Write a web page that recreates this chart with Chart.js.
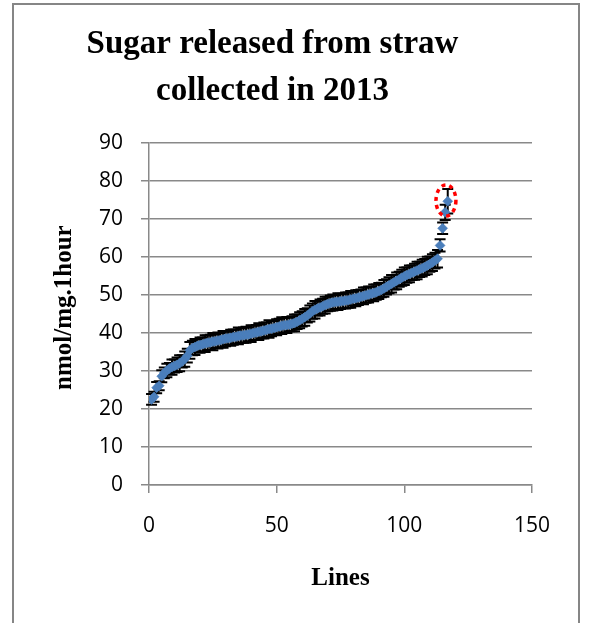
<!DOCTYPE html>
<html>
<head>
<meta charset="utf-8">
<script src="https://cdn.jsdelivr.net/npm/chart.js@4/dist/chart.umd.min.js"></script>
<style>
  html, body { margin: 0; padding: 0; background: #fff; }
  #wrap { width: 592px; height: 623px; }
</style>
</head>
<body>
<div id="wrap"><canvas id="c" width="592" height="623"></canvas></div>
<script>
// line ids (x) and sugar released (y)
const lines = [1,2,3,4,5,6,7,8,9,10,11,12,13,14,15,16,17,18,19,20,
  21,22,23,24,25,26,27,28,29,30,31,32,33,34,35,36,37,38,39,40,
  41,42,43,44,45,46,47,48,49,50,51,52,53,54,55,56,57,58,59,60,
  61,62,63,64,65,66,67,68,69,70,71,72,73,74,75,76,77,78,79,80,
  81,82,83,84,85,86,87,88,89,90,91,92,93,94,95,96,97,98,99,100,
  101,102,103,104,105,106,107,108,109,110,111,112,113,114,115,116,117];

const sugar = [22.5,23.2,25.6,26.1,28.6,29.5,30.1,30.6,31.0,31.3,
  31.6,32.0,32.5,33.1,34.0,35.4,36.0,36.3,36.6,36.8,
  37.0,37.2,37.4,37.5,37.7,37.8,38.0,38.1,38.3,38.5,
  38.6,38.7,38.9,39.0,39.2,39.3,39.4,39.5,39.6,39.8,
  40.0,40.1,40.3,40.4,40.6,40.8,41.0,41.1,41.3,41.5,
  41.7,41.9,42.0,42.1,42.2,42.4,42.6,42.9,43.3,43.7,
  44.1,44.6,45.1,45.7,46.1,46.4,46.7,47.0,47.3,47.6,
  47.8,48.0,48.1,48.2,48.3,48.4,48.5,48.6,48.8,49.0,
  49.1,49.3,49.5,49.7,49.9,50.1,50.3,50.5,50.7,51.0,
  51.3,51.7,52.1,52.5,52.9,53.3,53.7,54.1,54.5,54.9,
  55.2,55.5,55.8,56.1,56.4,56.7,57.0,57.3,57.7,58.1,
  58.5,59.0,59.5,63.0,67.5,71.7,74.6];

// error bar half-lengths
const errors = [1.4,1.3,1.5,1.2,1.6,1.4,1.8,1.5,2.0,1.7,
  1.9,2.1,1.6,2.0,1.8,2.2,1.9,2.1,1.7,2.0,
  1.8,2.2,1.9,2.0,2.3,1.8,2.1,1.9,2.2,2.0,
  1.7,2.1,2.0,1.8,2.2,1.9,2.0,2.1,1.8,2.2,
  1.9,2.0,2.2,1.8,2.1,1.9,2.3,2.0,1.8,2.1,
  2.0,2.2,1.9,2.1,1.8,2.0,2.2,1.9,2.1,2.0,
  2.2,1.9,2.1,2.0,2.3,1.8,2.1,2.0,2.2,1.9,
  2.0,2.1,1.8,2.2,2.0,1.9,2.1,2.0,2.2,1.8,
  2.1,2.0,1.9,2.2,2.0,2.1,1.8,2.2,2.0,2.1,
  1.9,2.2,2.0,2.1,2.3,1.9,2.2,2.0,2.1,2.3,
  2.0,2.2,1.9,2.1,2.3,2.0,2.2,2.1,2.3,2.0,
  2.2,2.1,2.3,1.6,1.5,2.0,3.2];

const yTicks = [0,10,20,30,40,50,60,70,80,90];
const xTicks = [0,50,100,150];

// highlighted outlier, in data units
const ring = { x: 116.3, y: 74.8, rx: 3.9, ry: 4.1 };

const grey = '#898989';

const frame = {
  id: 'frame',
  beforeDraw(chart) {
    const ctx = chart.ctx;
    ctx.save();
    ctx.fillStyle = '#fff';
    ctx.fillRect(0, 0, chart.width, chart.height);
    ctx.strokeStyle = '#868686';
    ctx.lineWidth = 2;
    ctx.strokeRect(13, 4, 566, 640);
    ctx.restore();
  }
};

const errorBars = {
  id: 'errorBars',
  beforeDatasetsDraw(chart) {
    const ctx = chart.ctx, xs = chart.scales.x, ys = chart.scales.y;
    ctx.save();
    ctx.strokeStyle = '#000';
    ctx.lineWidth = 2;
    lines.forEach((l, i) => {
      const px = xs.getPixelForValue(l);
      const top = ys.getPixelForValue(sugar[i] + errors[i]);
      const bot = ys.getPixelForValue(sugar[i] - errors[i]);
      ctx.beginPath();
      ctx.moveTo(px, top); ctx.lineTo(px, bot);
      ctx.moveTo(px - 5.5, top); ctx.lineTo(px + 5.5, top);
      ctx.moveTo(px - 5.5, bot); ctx.lineTo(px + 5.5, bot);
      ctx.stroke();
    });
    ctx.restore();
  },
  afterDatasetsDraw(chart) {
    const ctx = chart.ctx, xs = chart.scales.x, ys = chart.scales.y;
    const cx = xs.getPixelForValue(ring.x), cy = ys.getPixelForValue(ring.y);
    const rx = Math.abs(xs.getPixelForValue(ring.x + ring.rx) - cx);
    const ry = Math.abs(ys.getPixelForValue(ring.y + ring.ry) - cy);
    ctx.save();
    ctx.strokeStyle = '#ff0000';
    ctx.lineWidth = 3.5;
    ctx.setLineDash([4, 4]);
    ctx.beginPath();
    ctx.ellipse(cx, cy, rx, ry, 0, 0, Math.PI * 2);
    ctx.stroke();
    ctx.restore();
  }
};

new Chart(document.getElementById('c'), {
  type: 'scatter',
  data: {
    datasets: [{
      data: lines.map((l, i) => ({ x: l, y: sugar[i] })),
      pointStyle: 'rectRot',
      pointRadius: 5,
      pointBackgroundColor: '#4a7ebb',
      pointBorderColor: '#4a7ebb',
      pointBorderWidth: 0.5
    }]
  },
  options: {
    responsive: false,
    animation: false,
    layout: { padding: { left: 13, right: 60, top: 4, bottom: 0 } },
    plugins: {
      legend: { display: false },
      tooltip: { enabled: false },
      title: {
        display: true,
        text: ['Sugar released from straw', 'collected in 2013'],
        color: '#000',
        font: { family: 'Liberation Serif', size: 33, weight: 'bold', lineHeight: 1.42 },
        padding: { top: 17, bottom: 28 }
      }
    },
    scales: {
      x: {
        type: 'linear',
        min: 0, max: 150,
        afterBuildTicks: s => { s.ticks = xTicks.map(v => ({ value: v })); },
        afterFit: s => { s.height = 138; },
        ticks: { color: '#000', padding: 20, font: { family: 'Open Sans', size: 21 } },
        grid: { drawOnChartArea: false, color: grey, lineWidth: 1.5, tickLength: 8 },
        border: { color: grey, width: 1.5 },
        title: {
          display: true, text: 'Lines', color: '#000',
          font: { family: 'Liberation Serif', size: 25, weight: 'bold', lineHeight: 1.2 },
          padding: { top: 0, bottom: 29 }
        }
      },
      y: {
        min: 0, max: 90,
        afterBuildTicks: s => { s.ticks = yTicks.map(v => ({ value: v })); },
        afterFit: s => { s.width = 136; },
        ticks: { color: '#000', padding: 18, font: { family: 'Open Sans', size: 21 } },
        grid: { color: grey, lineWidth: 1.5, tickLength: 8 },
        border: { color: grey, width: 1.5 },
        title: {
          display: true, text: '  nmol/mg.1hour', color: '#000',
          font: { family: 'Liberation Serif', size: 25, weight: 'bold', lineHeight: 1.2 },
          padding: { top: 37, bottom: 0 }
        }
      }
    }
  },
  plugins: [frame, errorBars]
});
</script>
</body>
</html>
